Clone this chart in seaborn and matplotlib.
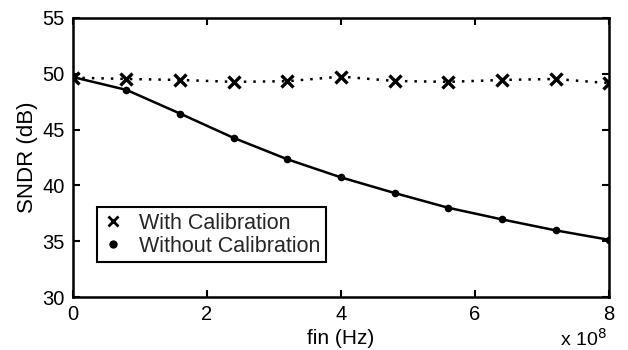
import numpy as np
import pandas as pd
import matplotlib
matplotlib.use("Agg")
import matplotlib.pyplot as plt
from matplotlib.lines import Line2D
import seaborn as sns

fin_hz = [0.0, 0.8e8, 1.6e8, 2.4e8, 3.2e8, 4.0e8, 4.8e8, 5.6e8, 6.4e8, 7.2e8, 8.0e8]
sndr_with_cal = [49.65, 49.53, 49.44, 49.27, 49.33, 49.74, 49.35, 49.27, 49.44, 49.53, 49.15]
sndr_without_cal = [49.7, 48.55, 46.43, 44.25, 42.34, 40.72, 39.32, 38.0, 36.96, 35.98, 35.13]
x_ticks = [0, 2, 4, 6, 8]
y_ticks = [30, 35, 40, 45, 50, 55]

sns.set_style("ticks")
plt.rcParams["font.family"] = ["Liberation Sans", "DejaVu Sans"]

fin_scaled = np.array(fin_hz) / 1e8
df = pd.DataFrame({"fin": fin_scaled, "with": sndr_with_cal, "without": sndr_without_cal})

fig = plt.figure(figsize=(6.28, 3.5), dpi=100)
ax = fig.add_axes([0.116, 0.151, 0.854, 0.798])

sns.lineplot(data=df, x="fin", y="with", ax=ax, color="black", linestyle=(0, (1, 2.8)),
             linewidth=1.8, marker="x", markersize=8, markeredgewidth=2.4,
             markeredgecolor="black", legend=False)
sns.lineplot(data=df, x="fin", y="without", ax=ax, color="black", linestyle="-",
             linewidth=1.8, marker="o", markersize=5.5, markeredgewidth=0,
             markerfacecolor="black", legend=False)

ax.set_xlim(0, 8)
ax.set_ylim(30, 55)
ax.set_xticks(x_ticks)
ax.set_yticks(y_ticks)
ax.tick_params(direction="in", top=True, right=True, labelsize=14.5, length=5,
               width=1.5, pad=6, colors="black")
for s in ax.spines.values():
    s.set_linewidth(1.8)
    s.set_color("black")

ax.set_xlabel("fin (Hz)", fontsize=15, labelpad=3, color="black")
ax.set_ylabel("SNDR (dB)", fontsize=16, labelpad=3, color="black")
ax.text(0.995, -0.15, r"x 10$^{8}$", transform=ax.transAxes, ha="right", va="center",
        fontsize=14, color="black")

handles = [
    Line2D([], [], color="black", linestyle="", marker="x", markersize=7, markeredgewidth=2),
    Line2D([], [], color="black", linestyle="", marker="o", markersize=6, markeredgewidth=0),
]
labels = ["With Calibration", "Without Calibration"]
leg = ax.legend(handles, labels, loc="lower left", bbox_to_anchor=(0.045, 0.125),
                borderaxespad=0, fontsize=15.5, fancybox=False, framealpha=1,
                edgecolor="black", handlelength=1.0, handletextpad=0.7,
                borderpad=0.25, labelspacing=0.1)
leg.get_frame().set_linewidth(1.5)

fig.savefig("out.png", dpi=100)
